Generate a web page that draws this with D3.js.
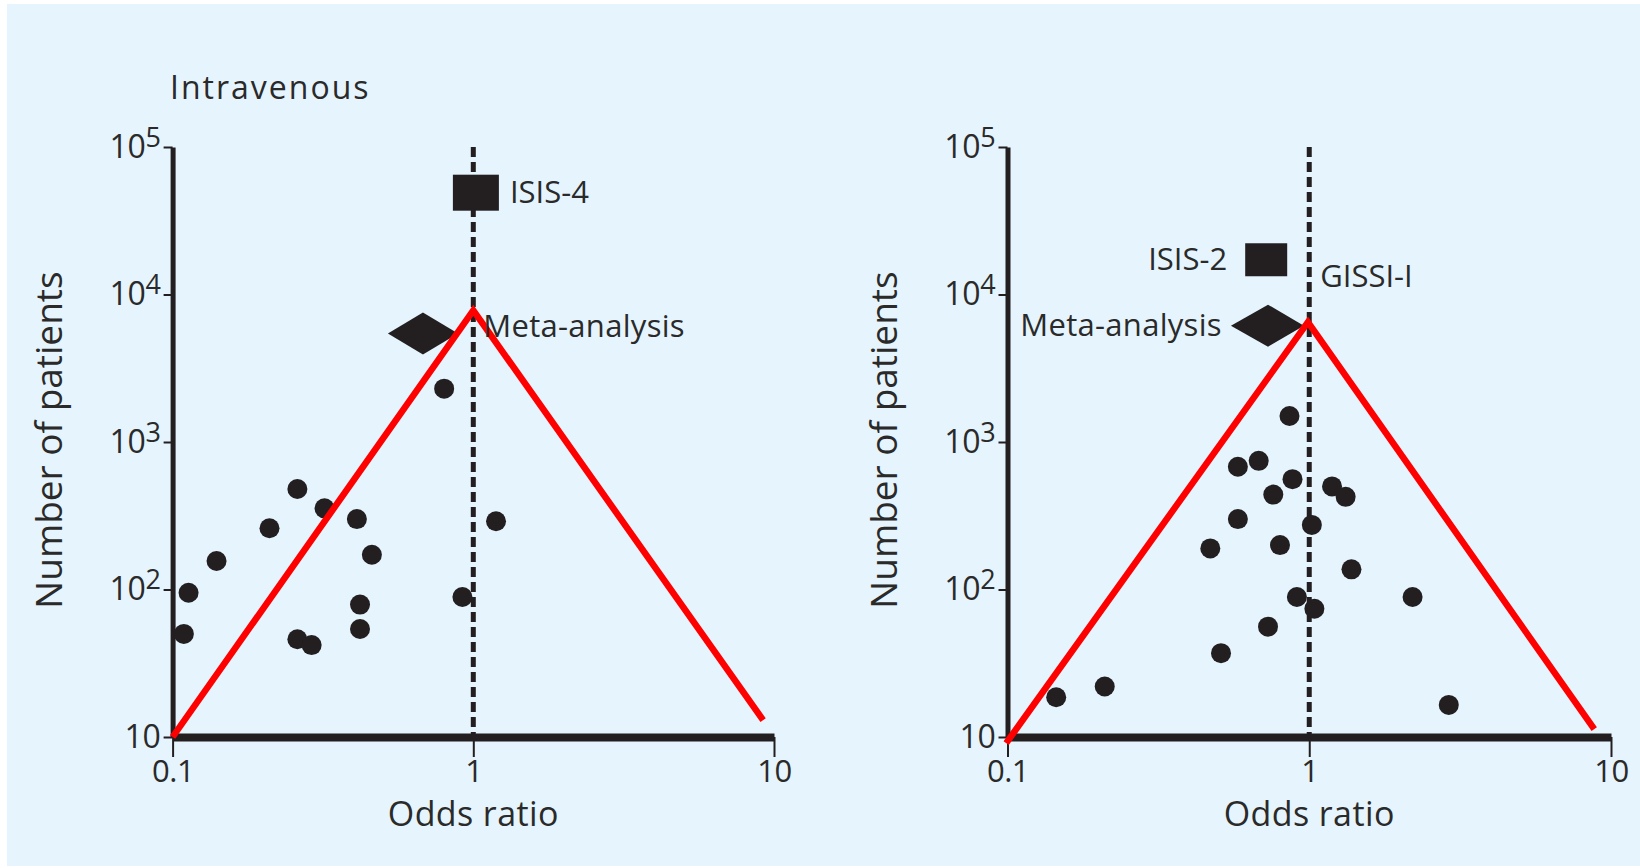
<!DOCTYPE html>
<html>
<head>
<meta charset="utf-8">
<script src="https://cdn.jsdelivr.net/npm/d3@7"></script>
<style>
  body { margin: 0; background: #fff; }
  text { font-family: "Open Sans", "Noto Sans", sans-serif; fill: #2a2a2a; }
</style>
</head>
<body>
<svg id="chart" width="1640" height="868"></svg>
<script>
// axis ticks
var oddsTicks = [0.1, 1, 10];
var oddsTickLabels = ['0.1', '1', '10'];
var patientTicks = [10, 100, 1000, 10000, 100000];
var patientTickExps = ['', '2', '3', '4', '5'];

// left panel: intravenous, small trials
var ivOdds = [0.80, 0.26, 0.32, 0.41, 0.21, 1.19, 0.46, 0.14, 0.113, 0.92, 0.42, 0.109, 0.42, 0.26, 0.29];
var ivPatients = [2300, 480, 355, 300, 260, 290, 172, 156, 95, 89, 79, 50, 54, 46, 42];
var ivBigTrial = ['ISIS-4', 1.02, 49000];          // name, odds ratio, patients
var ivMeta = [0.68, 0.52, 0.89, 5430];             // OR, low, high, patients
var ivFunnelOdds = [0.1, 1.0, 9.2];
var ivFunnelPatients = [10, 7800, 13];

// right panel, small trials
var rtOdds = [0.68, 0.58, 0.88, 1.19, 0.76, 1.32, 0.58, 1.02, 0.47, 0.80, 1.38, 0.91, 2.2, 1.04, 0.73, 0.51, 0.21, 0.145, 2.9, 0.86];
var rtPatients = [745, 680, 560, 500, 440, 425, 300, 274, 190, 200, 137, 89, 89, 74, 56, 37, 22, 18.6, 16.5, 1500];
var rtBigTrial = ['ISIS-2', 0.72, 17200];
var rtGissi = ['GISSI-I', 1.0, 11700];
var rtMeta = [0.73, 0.55, 0.96, 6150];
var rtFunnelOdds = [0.099, 0.99, 8.8];
var rtFunnelPatients = [9.1, 6500, 11.3];

var ink = '#231f20';
var svg = d3.select('#chart');

svg.append('rect')
  .attr('x', 7).attr('y', 4)
  .attr('width', 1633).attr('height', 862)
  .attr('fill', '#e6f5fd');

var y = d3.scaleLog().domain([10, 100000]).range([737, 147]);

var drawPanel = function(opts) {
  var x = d3.scaleLog().domain([0.1, 10]).range([opts.left, opts.right]);
  var g = svg.append('g');

  // dashed line of no effect
  g.append('line')
    .attr('x1', x(1)).attr('x2', x(1))
    .attr('y1', y(100000)).attr('y2', y(10))
    .attr('stroke', ink).attr('stroke-width', 5)
    .attr('stroke-dasharray', '10,5');

  // y axis
  var yAxis = g.append('g')
    .attr('transform', 'translate(' + opts.left + ',0)')
    .call(d3.axisLeft(y).tickValues(patientTicks).tickSize(9).tickSizeOuter(0).tickFormat(''));
  yAxis.select('.domain').attr('stroke', ink).attr('stroke-width', 5);
  yAxis.selectAll('.tick line').attr('stroke', ink).attr('stroke-width', 2);
  yAxis.selectAll('.tick').each(function(d, i) {
    var t = d3.select(this).append('text')
      .attr('x', -12).attr('y', 10)
      .attr('text-anchor', 'end')
      .style('font-size', '32px').style('letter-spacing', '-0.3px');
    t.append('tspan').text('10');
    if (patientTickExps[i]) {
      t.append('tspan').attr('dy', -11).style('font-size', '27px').text(patientTickExps[i]);
    }
  });

  // x axis
  var xAxis = g.append('g')
    .attr('transform', 'translate(0,737)')
    .call(d3.axisBottom(x).tickValues(oddsTicks).tickSize(20).tickSizeOuter(0)
      .tickFormat(function(d, i) { return oddsTickLabels[i]; }));
  xAxis.select('.domain').attr('stroke', ink).attr('stroke-width', 8);
  xAxis.selectAll('.tick line').attr('stroke', ink).attr('stroke-width', 2);
  xAxis.selectAll('.tick text')
    .attr('y', 45).attr('dy', 0)
    .attr('fill', '#2a2a2a')
    .style('font-family', '"Open Sans", sans-serif')
    .style('font-size', '31px').style('letter-spacing', '-0.5px');

  // small trials
  g.selectAll('circle.trial')
    .data(opts.odds)
    .enter().append('circle')
    .attr('class', 'trial')
    .attr('cx', function(d) { return x(d); })
    .attr('cy', function(d, i) { return y(opts.patients[i]); })
    .attr('r', 10)
    .attr('fill', ink);

  // large trial
  var big = opts.big;
  g.append('rect')
    .attr('x', x(big[1]) - opts.sq[0] / 2).attr('y', y(big[2]) - opts.sq[1] / 2)
    .attr('width', opts.sq[0]).attr('height', opts.sq[1])
    .attr('fill', ink);
  g.append('text')
    .attr('x', opts.bigLabelLeft ? x(big[1]) - opts.sq[0] / 2 - 18 : x(big[1]) + opts.sq[0] / 2 + 11)
    .attr('y', y(big[2]) + 10)
    .attr('text-anchor', opts.bigLabelLeft ? 'end' : 'start')
    .style('font-size', '31px').style('letter-spacing', '0px')
    .text(big[0]);

  // meta-analysis diamond
  var m = opts.meta;
  var my = y(m[3]);
  g.append('path')
    .attr('d', 'M' + x(m[1]) + ',' + my + 'L' + x(m[0]) + ',' + (my - 21) +
      'L' + x(m[2]) + ',' + my + 'L' + x(m[0]) + ',' + (my + 21) + 'Z')
    .attr('fill', ink);

  // funnel
  var line = d3.line()
    .x(function(d) { return x(d); })
    .y(function(d, i) { return y(opts.funnelPatients[i]); });
  g.append('path')
    .attr('d', line(opts.funnelOdds))
    .attr('fill', 'none')
    .attr('stroke', '#ff0000')
    .attr('stroke-width', 6.5)
    .attr('stroke-linejoin', 'miter');

  g.append('text')
    .attr('x', opts.metaLabelLeft ? x(m[1]) - 9 : x(1) + 10)
    .attr('y', my + (opts.metaLabelLeft ? 10 : 3))
    .attr('text-anchor', opts.metaLabelLeft ? 'end' : 'start')
    .style('font-size', '31px').style('letter-spacing', '0.3px')
    .text('Meta-analysis');

  // axis titles
  g.append('text')
    .attr('transform', 'translate(' + (opts.left - 111) + ',440) rotate(-90)')
    .attr('text-anchor', 'middle')
    .style('font-size', '37px')
    .text('Number of patients');
  g.append('text')
    .attr('x', x(1)).attr('y', 826)
    .attr('text-anchor', 'middle')
    .style('font-size', '34px').style('letter-spacing', '0.4px')
    .text('Odds ratio');

  return {g: g, x: x};
};

var leftPanel = drawPanel({
  left: 172.6, right: 774,
  odds: ivOdds, patients: ivPatients,
  big: ivBigTrial, sq: [46, 36], bigLabelLeft: false,
  meta: ivMeta, metaLabelLeft: false,
  funnelOdds: ivFunnelOdds, funnelPatients: ivFunnelPatients
});

leftPanel.g.append('text')
  .attr('x', 170).attr('y', 99)
  .style('font-size', '32px').style('letter-spacing', '2px')
  .text('Intravenous');

var rightPanel = drawPanel({
  left: 1007.5, right: 1611,
  odds: rtOdds, patients: rtPatients,
  big: rtBigTrial, sq: [42, 33], bigLabelLeft: true,
  meta: rtMeta, metaLabelLeft: true,
  funnelOdds: rtFunnelOdds, funnelPatients: rtFunnelPatients
});

rightPanel.g.append('text')
  .attr('x', rightPanel.x(rtGissi[1]) + 11).attr('y', y(rtGissi[2]) + 3)
  .style('font-size', '31px').style('letter-spacing', '0px')
  .text(rtGissi[0]);
</script>
</body>
</html>
